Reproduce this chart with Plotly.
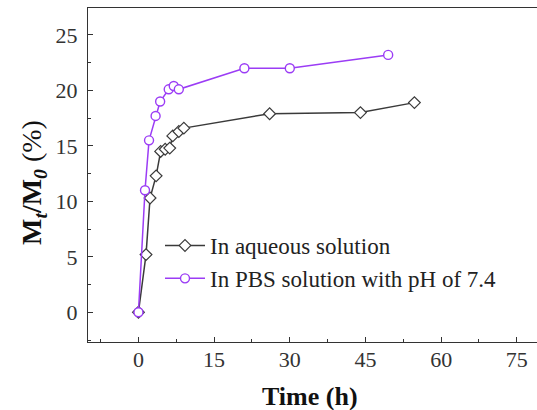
import plotly.graph_objects as go

# Release data: time (h) vs Mt/M0 (%)
aq_time = [0, 1.5, 2.3, 3.5, 4.4, 5.3, 6.2, 6.8, 8.0, 9.0, 26, 44, 54.7]
aq_release = [0, 5.2, 10.3, 12.3, 14.5, 14.7, 14.8, 15.9, 16.3, 16.6, 17.9, 18.0, 18.9]

pbs_time = [0, 1.3, 2.1, 3.4, 4.3, 6.0, 7.0, 8.0, 21, 30, 49.5]
pbs_release = [0, 11.0, 15.5, 17.7, 19.0, 20.1, 20.4, 20.1, 22.0, 22.0, 23.2]

x_ticks = [0, 15, 30, 45, 60, 75]
y_ticks = [0, 5, 10, 15, 20, 25]

SERIF = "Liberation Serif"

fig = go.Figure()
fig.add_trace(go.Scatter(
    x=aq_time, y=aq_release, mode="lines+markers",
    name="In aqueous solution",
    line=dict(color="#3a3a3a", width=1.5),
    marker=dict(symbol="diamond", size=9, color="white",
                line=dict(color="#3a3a3a", width=1.2)),
))
fig.add_trace(go.Scatter(
    x=pbs_time, y=pbs_release, mode="lines+markers",
    name="In PBS solution with pH of 7.4",
    line=dict(color="#9b3cf5", width=1.5),
    marker=dict(symbol="circle", size=9, color="white",
                line=dict(color="#9b3cf5", width=1.4)),
))

tick_font = dict(family=SERIF, size=22, color="#333")
axis_common = dict(
    showgrid=False, zeroline=False, showline=True, linecolor="#333",
    linewidth=1.3, ticks="inside", ticklen=5, tickwidth=1, tickcolor="#333",
)

fig.update_xaxes(
    range=[-10, 79], tickmode="array", tickvals=x_ticks,
    ticktext=[str(v) for v in x_ticks], tickfont=tick_font, mirror=True,
    ticklabelstandoff=-3,
    minor=dict(ticks="inside", ticklen=3, tickcolor="#333", dtick=7.5, tick0=-7.5),
    **axis_common,
)
fig.update_yaxes(
    range=[-2.68, 27.43], tickmode="array", tickvals=y_ticks,
    ticktext=[str(v) for v in y_ticks], tickfont=tick_font,
    ticklabelstandoff=5,
    minor=dict(ticks="inside", ticklen=3, tickcolor="#333", dtick=2.5, tick0=0),
    **axis_common,
)

fig.add_annotation(
    text="<b>Time (h)</b>", xref="paper", yref="paper",
    x=(310 - 88) / 449, y=-(396 - 342) / 334, yanchor="middle", xanchor="center",
    showarrow=False,
    font=dict(family=SERIF, size=26, color="#111"),
)
fig.add_annotation(
    text="<b>M<sub><i>t</i></sub>/M<sub><i>0</i></sub></b> (%)",
    xref="paper", yref="paper", textangle=-90,
    x=-(88 - 33) / 449, y=(342 - 183) / 334, xanchor="center", yanchor="middle",
    showarrow=False,
    font=dict(family=SERIF, size=28, color="#111"),
)

fig.update_layout(
    width=537, height=410,
    margin=dict(l=88, r=0, t=8, b=68),
    font=dict(family=SERIF, size=16, color="#333"),
    paper_bgcolor="white", plot_bgcolor="white",
    showlegend=True,
    legend=dict(
        x=(160 - 88) / 449, y=(342 - 224) / 334, xanchor="left", yanchor="top",
        bgcolor="rgba(0,0,0,0)", font=dict(family=SERIF, size=23, color="#222"),
        itemwidth=40,
    ),
)

fig.write_html("out.html")
